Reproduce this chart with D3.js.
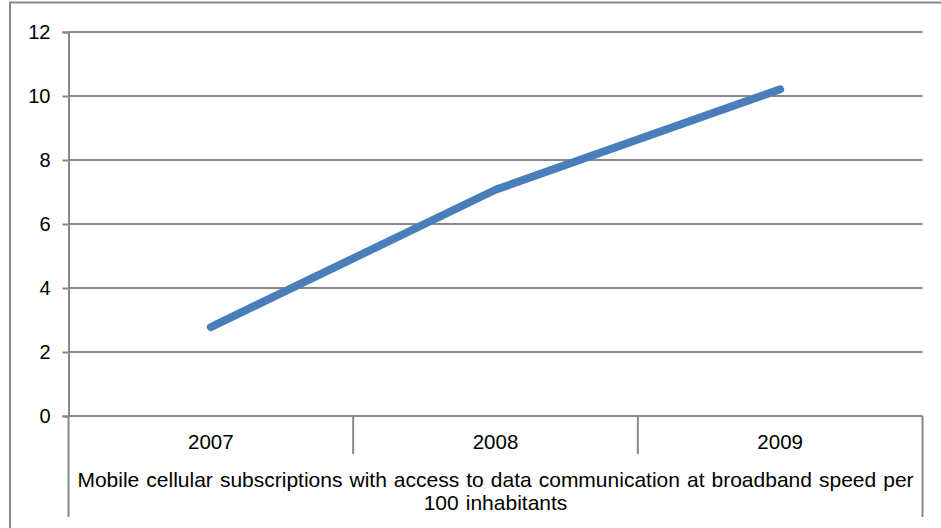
<!DOCTYPE html>
<html>
<head>
<meta charset="utf-8">
<script src="https://cdn.jsdelivr.net/npm/d3@7/dist/d3.min.js"></script>
<style>
  html, body { margin: 0; padding: 0; background: #fff; }
  svg { display: block; }
  text { font-family: "Liberation Sans", Arial, sans-serif; fill: #000; }
</style>
</head>
<body>
<svg id="chart" width="941" height="528"></svg>
<script>
// Mobile broadband subscriptions per 100 inhabitants
const years = ["2007", "2008", "2009"];
const values = [2.78, 7.07, 10.21];
const yTicks = [0, 2, 4, 6, 8, 10, 12];
const seriesTitle = ["Mobile cellular subscriptions with access to data communication at broadband speed per",
                     "100 inhabitants"];

const svg = d3.select("#chart");
const W = 941, H = 528;
const gridColor = "#878787";
const lineColor = "#4a7ebb";

// chart frame
svg.append("rect")
  .attr("x", 10).attr("y", 2.5)
  .attr("width", W + 20).attr("height", H + 20)
  .attr("fill", "none").attr("stroke", gridColor).attr("stroke-width", 2);

const plot = { left: 68.5, right: 922.5, top: 32, bottom: 416 };

const x = d3.scaleBand().domain(years).range([plot.left, plot.right]).padding(0);
const y = d3.scaleLinear().domain([0, 12]).range([plot.bottom, plot.top]);

// horizontal gridlines
svg.append("g")
  .selectAll("line")
  .data(yTicks)
  .join("line")
  .attr("x1", plot.left).attr("x2", plot.right)
  .attr("y1", d => y(d)).attr("y2", d => y(d))
  .attr("stroke", gridColor).attr("stroke-width", 2);

// value axis
const yAxis = svg.append("g")
  .attr("transform", `translate(${plot.left},0)`)
  .call(d3.axisLeft(y).tickValues(yTicks).tickSize(6).tickPadding(12).tickFormat(d3.format("d")));
yAxis.select(".domain").attr("stroke", gridColor).attr("stroke-width", 2);
yAxis.selectAll(".tick line").attr("stroke", gridColor).attr("stroke-width", 2);
yAxis.selectAll(".tick text")
  .attr("font-size", 20)
  .attr("font-family", "Liberation Sans, Arial, sans-serif")
  .attr("fill", "#000");

// category axis: year labels with separators, plus the series title row
const bounds = years.map(d => x(d)).concat([plot.right]);
svg.append("g")
  .selectAll("line")
  .data(bounds)
  .join("line")
  .attr("x1", d => d).attr("x2", d => d)
  .attr("y1", plot.bottom)
  .attr("y2", (d, i) => (i === 0 || i === bounds.length - 1) ? 517 : 454)
  .attr("stroke", gridColor).attr("stroke-width", 2);

svg.append("g")
  .selectAll("text")
  .data(years)
  .join("text")
  .attr("x", d => x(d) + x.bandwidth() / 2)
  .attr("y", 442)
  .attr("dy", "0.35em")
  .attr("text-anchor", "middle")
  .attr("font-size", 20.5)
  .text(d => d);

svg.append("g")
  .selectAll("text")
  .data(seriesTitle)
  .join("text")
  .attr("x", (plot.left + plot.right) / 2)
  .attr("y", (d, i) => 480 + i * 23)
  .attr("dy", "0.35em")
  .attr("text-anchor", "middle")
  .attr("font-size", 21)
  .style("word-spacing", "1.2px")
  .text(d => d);

// data line
const line = d3.line()
  .x((d, i) => x(years[i]) + x.bandwidth() / 2)
  .y(d => y(d));

svg.append("path")
  .datum(values)
  .attr("d", line)
  .attr("fill", "none")
  .attr("stroke", lineColor)
  .attr("stroke-width", 8)
  .attr("stroke-linecap", "round")
  .attr("stroke-linejoin", "round");
</script>
</body>
</html>
